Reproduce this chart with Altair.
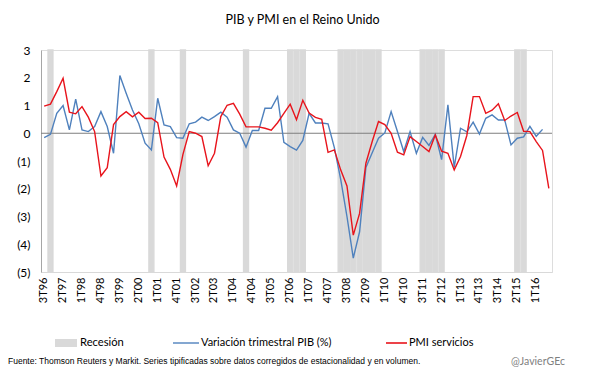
import altair as alt
import pandas as pd

TITLE = "PIB y PMI en el Reino Unido"

# Quarterly categories 3T96 .. 3T16
quarters = []
for i in range(81):
    q = (2 + i) % 4 + 1
    yr = 1996 + (2 + i) // 4
    quarters.append(f"{q}T{yr % 100:02d}")

# Variación trimestral PIB (tipificada), 3T96 .. 2T16
pib = [-0.16, -0.04, 0.72, 1.00, 0.12, 1.23, 0.12, 0.06, 0.24, 0.78,
       0.24, -0.72, 2.08, 1.44, 0.84, 0.34, -0.36, -0.60, 1.26, 0.30,
       0.24, -0.16, -0.18, 0.34, 0.40, 0.58, 0.46, 0.60, 0.76, 0.58,
       0.12, 0.00, -0.50, 0.10, 0.10, 0.90, 0.90, 1.32, -0.33, -0.48,
       -0.61, -0.26, 0.72, 0.37, 0.37, 0.34, -0.52, -1.65, -3.00, -4.50,
       -3.55, -1.23, -0.70, -0.18, 0.01, 0.78, 0.06, -0.66, 0.06, -0.72,
       -0.15, -0.44, -0.04, -0.95, 1.02, -1.23, 0.18, 0.05, 0.40, -0.03,
       0.54, 0.66, 0.48, 0.48, -0.42, -0.18, -0.13, 0.25, -0.11, 0.14]

# PMI servicios (tipificado), 3T96 .. 3T16
pmi = [0.98, 1.05, 1.50, 1.98, 0.76, 0.70, 0.96, 0.58, 0.06, -1.54,
       -1.24, 0.31, 0.60, 0.78, 0.59, 0.76, 0.53, 0.54, 0.38, -0.86,
       -1.30, -1.90, -0.76, 0.06, 0.00, -0.12, -1.17, -0.72, 0.60, 1.01,
       1.08, 0.69, 0.23, 0.23, 0.23, 0.18, 0.11, 0.38, 0.72, 1.05,
       0.49, 1.19, 0.73, 0.57, 0.50, -0.69, -0.60, -1.32, -1.90, -3.67,
       -2.89, -1.08, -0.30, 0.42, 0.31, 0.00, -0.68, -0.78, -0.12, -0.30,
       -0.48, -0.66, -0.06, -0.65, -0.72, -1.32, -0.84, -0.08, 1.32, 1.32,
       0.72, 0.83, 1.06, 0.46, 0.62, 0.75, 0.07, 0.06, -0.30, -0.62, -1.99]

recession_quarters = ["4T96", "4T00", "1T02", "3T04", "2T06", "3T06", "4T06",
                      "2T08", "3T08", "4T08", "1T09", "2T09", "3T09", "4T09",
                      "3T11", "4T11", "1T12", "2T12", "2T15", "3T15"]

y_ticks = [-5, -4, -3, -2, -1, 0, 1, 2, 3]
series_names = ["Variación trimestral PIB (%)", "PMI servicios"]
legend_labels = ["Recesión", "Variación trimestral PIB (%)", "PMI servicios"]
source_text = ("Fuente: Thomson Reuters y Markit. Series tipificadas sobre datos "
               "corregidos de estacionalidad y en volumen.")
credit = "@JavierGEc"

BLUE = "#4f81bd"
RED = "#e8141c"
GREY = "#d9d9d9"
FONT = "Lato"

W, H = 511, 222

rows = []
for q, v in zip(quarters, pib):
    rows.append({"q": q, "serie": series_names[0], "v": v})
for q, v in zip(quarters, pmi):
    rows.append({"q": q, "serie": series_names[1], "v": v})
df_lines = pd.DataFrame(rows)

df_rec = pd.DataFrame({"q": recession_quarters,
                       "lo": [y_ticks[0]] * len(recession_quarters),
                       "hi": [y_ticks[-1]] * len(recession_quarters)})

x_scale = alt.Scale(type="band", domain=quarters, paddingInner=0, paddingOuter=0)
y_scale = alt.Scale(domain=[y_ticks[0], y_ticks[-1]], nice=False, zero=False)

x_axis = alt.Axis(values=quarters[::3], labelAngle=270, ticks=False, grid=False,
                  domainColor="#d9d9d9", labelPadding=5, labelFontSize=11,
                  labelColor="#000000", title=None, labelFont=FONT,
                  labelOverlap=False)
y_axis = alt.Axis(values=y_ticks, tickCount=len(y_ticks), ticks=False, grid=False,
                  domainColor="#a6a6a6", labelPadding=11, labelFontSize=12,
                  labelColor="#000000", title=None, labelFont=FONT,
                  labelOverlap=False, labelFlush=False,
                  labelExpr="datum.value < 0 ? '(' + abs(datum.value) + ')' : '' + datum.value")

bars = alt.Chart(df_rec).mark_bar(color=GREY, stroke=GREY, strokeWidth=1.3,
                                  width=alt.RelativeBandSize(0.8)).encode(
    x=alt.X("q:O", scale=x_scale, axis=x_axis),
    y=alt.Y("lo:Q", scale=y_scale, axis=y_axis),
    y2="hi:Q",
)

zero = alt.Chart(pd.DataFrame({"z": [0]})).mark_rule(color="#7f7f7f", strokeWidth=1).encode(
    y=alt.Y("z:Q", scale=y_scale, axis=y_axis)
)

lines = alt.Chart(df_lines).mark_line(strokeWidth=1.4).encode(
    x=alt.X("q:O", scale=x_scale, axis=x_axis),
    y=alt.Y("v:Q", scale=y_scale, axis=y_axis),
    color=alt.Color("serie:N", scale=alt.Scale(domain=series_names, range=[BLUE, RED]),
                    legend=None),
    order=alt.Order("serie:N", sort="descending"),
)

one = pd.DataFrame({"a": [0]})
leg_rect = alt.Chart(one).mark_rect(color=GREY).encode(
    x=alt.value(14), x2=alt.value(36), y=alt.value(289), y2=alt.value(297))
leg_blue = alt.Chart(one).mark_rule(color=BLUE, strokeWidth=1.4).encode(
    x=alt.value(132), x2=alt.value(158), y=alt.value(293))
leg_red = alt.Chart(one).mark_rule(color=RED, strokeWidth=1.6).encode(
    x=alt.value(345), x2=alt.value(366), y=alt.value(293))

def label(txt, x, y, size=11.5, color="#000000", font=FONT, align="left"):
    return alt.Chart(one).mark_text(align=align, baseline="middle", fontSize=size,
                                    color=color, font=font).encode(
        x=alt.value(x), y=alt.value(y), text=alt.value(txt))

leg_t1 = label(legend_labels[0], 39, 293, size=11.2)
leg_t2 = label(legend_labels[1], 160, 293, size=11)
leg_t3 = label(legend_labels[2], 368, 293, size=11)
src = label(source_text, -33, 311, size=8.5, font="Liberation Sans")
cred = label(credit, 497, 312, size=10.5, color="#7f7f7f", align="center")

chart = alt.layer(bars, zero, lines, leg_rect, leg_blue, leg_red,
                  leg_t1, leg_t2, leg_t3, src, cred).properties(
    width=W, height=H,
    title=alt.TitleParams(TITLE, fontSize=12.5, font=FONT, fontWeight="normal",
                          anchor="middle", dx=6, offset=18, color="#000000"),
    autosize=alt.AutoSizeParams(type="none"),
    padding={"left": 33, "top": 42, "right": 45, "bottom": 98},
).configure_view(stroke=None).configure(background="white")

chart.save("out.html", embed_options={"renderer": "svg", "actions": False})
